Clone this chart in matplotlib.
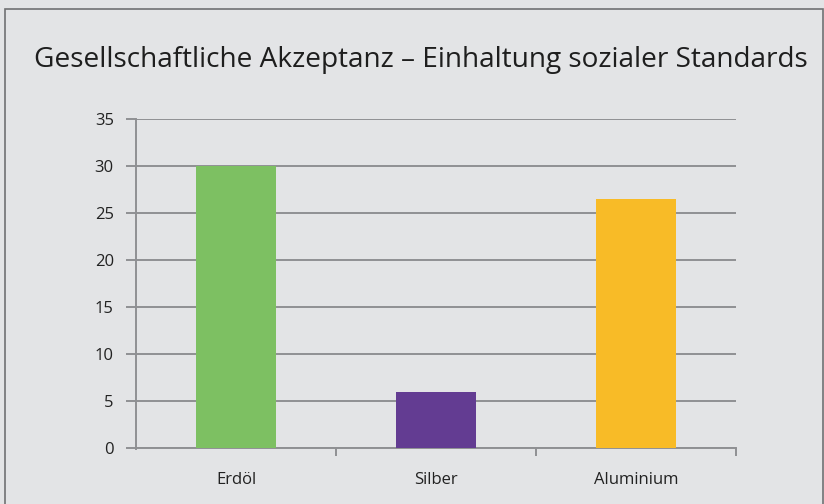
import numpy as np
import matplotlib.pyplot as plt
from matplotlib.patches import Rectangle

# Daten
kategorien = ["Erdöl", "Silber", "Aluminium"]
werte = [30, 6, 26.5]
farben = ["#7dc062", "#633c92", "#f8bb27"]
y_ticks = [0, 5, 10, 15, 20, 25, 30, 35]

titel = "Gesellschaftliche Akzeptanz – Einhaltung sozialer Standards"

bg = "#e3e4e6"
grid = "#8f9093"

plt.rcParams['font.family'] = ['Open Sans', 'DejaVu Sans']

fig = plt.figure(figsize=(8.24, 5.04), dpi=100)
fig.patch.set_facecolor(bg)

# Rahmen um das Diagramm
W, H = 824, 504
fig.patches.append(Rectangle((5 / W, -0.05), 818 / W, 1 - 9 / H + 0.05,
                             transform=fig.transFigure, fill=False,
                             edgecolor="#707173", linewidth=1.2))

fig.text(0.511, 1 - 60 / H, titel, ha="center", va="center",
         fontsize=20.2, color="#1e1e1e")

ax = fig.add_axes([136 / W, 1 - 448 / H, 600 / W, (448 - 119) / H])
ax.set_facecolor(bg)

x = np.arange(len(kategorien))
ax.bar(x, werte, width=0.4, color=farben, zorder=3)

ax.set_xlim(-0.5, len(kategorien) - 0.5)
ax.set_ylim(0, 35)
ax.set_yticks(y_ticks)
ax.yaxis.grid(True, color=grid, linewidth=1.4, zorder=0)

for s in ["top", "right"]:
    ax.spines[s].set_visible(False)
for s in ["left", "bottom"]:
    ax.spines[s].set_color(grid)
    ax.spines[s].set_linewidth(1.4)
ax.spines["left"].set_bounds(-0.15, 35)

ax.set_xticks(x)
ax.set_xticklabels(kategorien)
ax.set_xticks(np.arange(0.5, len(kategorien)), minor=True)
ax.tick_params(axis="x", which="major", length=0, pad=17, labelsize=12,
               labelcolor="#222222")
ax.tick_params(axis="x", which="minor", length=6, width=1.4, color=grid)
ax.tick_params(axis="y", length=7, width=1.4, color=grid, pad=9,
               labelsize=12, labelcolor="#222222")

fig.savefig("out.png", dpi=100, facecolor=bg)
